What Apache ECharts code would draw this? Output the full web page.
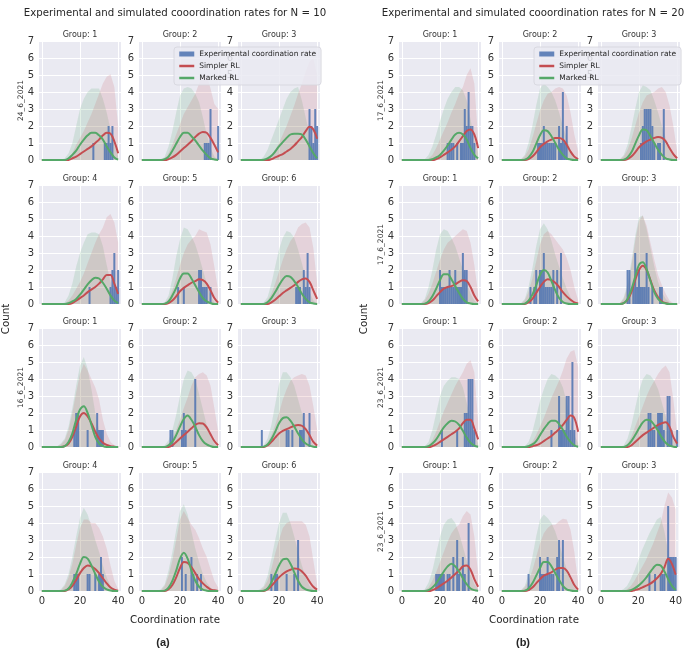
<!DOCTYPE html>
<html><head><meta charset="utf-8">
<script src="https://cdn.jsdelivr.net/npm/echarts@6/dist/echarts.min.js"></script>
<style>html,body{margin:0;padding:0;background:#fff}#c{width:685px;height:651px}</style>
</head><body><div id="c"></div>
<script>
// x positions where the simulated curves were read
const X = [0,6,8,10,12,14,16,18,20,22,24,26,28,30,32,34,36,38,40];
const xTicks = [0,20,40];
const yTicks = [0,1,2,3,4,5,6,7];

// ---------- (a) N = 10 ----------
// row 1 (24_6_2021)
const a11_bars = [[27,1],[33,1],[34,1],[35,2],[36,1],[37,2]];
const a11_simpler = [0,0,0,0,0,0,0.1,0.2,0.35,0.5,0.65,0.8,1.0,1.2,1.45,1.6,1.55,1.1,0.4];
const a11_marked = [0,0,0,0,0,0.1,0.3,0.55,0.9,1.2,1.45,1.6,1.6,1.45,1.2,0.8,0.45,0.15,0.02];
const a11_simplerBand = [0,0,0,0,0,0.1,0.4,0.9,1.3,1.7,2.2,2.7,3.3,3.9,4.5,4.9,5.05,4.3,2.0];
const a11_markedBand = [0,0,0,0,0.1,0.4,1.0,2.0,3.0,3.6,4.0,4.2,4.2,4.2,3.6,2.8,1.8,0.9,0.2];

const a12_bars = [[33,1],[34,1],[35,1],[36,3],[40,2]];
const a12_simpler = [0,0,0,0,0,0.05,0.15,0.3,0.5,0.7,0.9,1.1,1.35,1.55,1.65,1.6,1.3,0.9,0.45];
const a12_marked = [0,0,0,0,0.05,0.2,0.55,0.95,1.35,1.6,1.6,1.4,1.15,0.85,0.55,0.3,0.1,0.03,0];
const a12_simplerBand = [0,0,0,0,0.1,0.4,0.9,1.5,2.1,2.7,3.1,3.5,3.9,4.5,5.0,5.0,4.2,3.3,3.0];
const a12_markedBand = [0,0,0,0,0.2,0.8,1.7,2.8,3.8,4.2,4.3,4.2,3.9,3.4,2.5,1.5,0.7,0.2,0];

const a13_bars = [[36,3],[37,2],[38,1],[39,3],[40,2]];
const a13_simpler = [0,0,0,0,0,0,0.05,0.15,0.25,0.35,0.5,0.65,0.85,1.1,1.35,1.7,1.95,1.8,1.25];
const a13_marked = [0,0,0,0,0.02,0.1,0.25,0.5,0.8,1.05,1.3,1.5,1.55,1.55,1.5,1.2,0.8,0.4,0.1];
const a13_simplerBand = [0,0,0,0,0,0.1,0.3,0.6,1.0,1.5,2.0,2.6,3.2,3.9,4.5,5.2,5.8,6.0,5.0];
const a13_markedBand = [0,0,0,0,0.2,0.6,1.2,1.8,2.4,3.0,3.6,4.0,4.2,4.3,3.5,2.5,1.5,0.6,0.1];

// row 2
const a24_bars = [[25,1],[36,1],[37,2],[38,3],[39,1],[40,2]];
const a24_simpler = [0,0,0,0,0,0,0.05,0.2,0.35,0.5,0.7,0.85,1.0,1.2,1.45,1.7,1.7,1.2,0.6];
const a24_marked = [0,0,0,0,0,0.05,0.15,0.3,0.55,0.85,1.15,1.4,1.55,1.5,1.25,0.9,0.5,0.2,0.05];
const a24_simplerBand = [0,0,0,0,0,0.2,0.5,0.9,1.3,1.8,2.4,3.0,3.6,4.1,4.5,5.1,5.3,4.8,3.6];
const a24_markedBand = [0,0,0,0,0.1,0.5,1.2,2.2,3.0,3.6,4.1,4.2,4.2,4.1,3.4,2.3,1.3,0.5,0.1];

const a25_bars = [[19,1],[22,1],[30,2],[31,2],[32,1],[33,1],[34,1],[36,1]];
const a25_simpler = [0,0,0,0,0,0.05,0.2,0.45,0.75,0.95,1.1,1.25,1.35,1.45,1.4,1.2,0.8,0.35,0.08];
const a25_marked = [0,0,0,0,0.02,0.15,0.5,0.95,1.5,1.8,1.8,1.5,1.1,0.7,0.35,0.15,0.05,0,0];
const a25_simplerBand = [0,0,0,0,0.05,0.3,0.8,1.5,2.3,3.0,3.5,3.8,4.0,4.4,4.3,4.2,3.5,2.2,0.8];
const a25_markedBand = [0,0,0,0,0.1,0.5,1.5,2.8,3.8,4.5,4.4,4.0,3.5,2.8,2.0,1.2,0.5,0.1,0];

const a26_bars = [[29,1],[30,1],[31,1],[33,2],[34,1],[35,3],[36,1]];
const a26_simpler = [0,0,0,0,0,0,0.1,0.25,0.45,0.65,0.8,0.95,1.1,1.3,1.45,1.5,1.3,0.8,0.3];
const a26_marked = [0,0,0,0,0,0.1,0.35,0.7,1.1,1.45,1.65,1.6,1.35,1.0,0.6,0.3,0.1,0.03,0];
const a26_simplerBand = [0,0,0,0,0.05,0.2,0.6,1.2,1.9,2.6,3.2,3.7,4.0,4.5,4.7,4.8,4.5,3.3,1.2];
const a26_markedBand = [0,0,0,0,0.1,0.4,1.2,2.2,3.2,3.9,4.3,4.2,3.9,3.2,2.4,1.5,0.7,0.2,0];

// row 3 (16_6_2021)
const a31_bars = [[17,1],[18,2],[19,2],[24,1],[29,2],[30,1],[31,1],[32,1]];
const a31_simpler = [0,0,0,0,0.05,0.2,0.6,1.2,1.8,2.0,1.8,1.4,0.9,0.5,0.25,0.12,0.05,0.02,0];
const a31_marked = [0,0,0,0,0.05,0.3,0.8,1.6,2.2,2.4,2.0,1.3,0.6,0.2,0.05,0,0,0,0];
const a31_simplerBand = [0,0,0.05,0.15,0.4,1.0,2.0,3.2,4.3,4.9,4.5,4.0,3.5,2.8,1.6,0.8,0.3,0.1,0];
const a31_markedBand = [0,0,0.05,0.2,0.5,1.2,2.3,3.6,4.8,5.3,4.6,3.4,2.0,1.0,0.4,0.1,0,0,0];

const a32_bars = [[15,1],[16,1],[21,1],[22,2],[23,1],[28,4]];
const a32_simpler = [0,0,0,0,0,0,0.1,0.3,0.5,0.7,0.9,1.1,1.3,1.4,1.38,1.15,0.75,0.35,0.1];
const a32_marked = [0,0,0,0,0,0.1,0.3,0.7,1.2,1.65,1.85,1.6,1.2,0.7,0.35,0.15,0.05,0,0];
const a32_simplerBand = [0,0,0,0,0.05,0.2,0.5,1.0,1.6,2.3,2.9,3.6,4.1,4.3,4.4,4.2,3.6,2.3,0.9];
const a32_markedBand = [0,0,0,0,0.1,0.4,1.0,1.9,3.0,4.0,4.5,4.4,4.0,3.1,2.2,1.3,0.6,0.2,0];

const a33_bars = [[11,1],[24,1],[25,1],[27,1],[31,1],[32,1],[33,2],[36,2]];
const a33_simpler = [0,0,0,0,0,0.1,0.3,0.55,0.8,0.95,1.05,1.15,1.25,1.3,1.25,1.05,0.7,0.3,0.08];
const a33_marked = [0,0,0,0,0.02,0.15,0.45,0.9,1.4,1.7,1.75,1.55,1.2,0.8,0.45,0.2,0.08,0.02,0];
const a33_simplerBand = [0,0,0,0,0.05,0.25,0.7,1.3,2.0,2.8,3.4,3.9,4.1,4.2,4.3,4.2,3.6,2.4,1.0];
const a33_markedBand = [0,0,0,0,0.1,0.5,1.3,2.5,3.7,4.4,4.4,4.1,3.6,2.8,2.0,1.2,0.5,0.1,0];

// row 4
const a44_bars = [[17,1],[18,1],[19,1],[24,1],[25,1],[28,1],[30,1],[31,2],[32,1]];
const a44_simpler = [0,0,0,0,0,0.1,0.3,0.65,1.05,1.35,1.5,1.45,1.3,1.05,0.75,0.45,0.2,0.08,0.02];
const a44_marked = [0,0,0,0,0.02,0.15,0.5,1.0,1.6,2.0,1.9,1.5,1.0,0.55,0.25,0.1,0.03,0,0];
const a44_simplerBand = [0,0,0,0.05,0.3,0.8,1.6,2.7,3.7,4.2,4.2,4.0,4.0,3.7,3.2,2.5,1.5,0.6,0.1];
const a44_markedBand = [0,0,0,0.1,0.4,1.0,2.0,3.2,4.3,4.9,4.5,3.8,3.0,2.3,1.5,0.8,0.3,0.1,0];

const a45_bars = [[21,2],[23,1],[26,2],[27,1],[29,1],[31,1]];
const a45_simpler = [0,0,0,0,0,0.1,0.35,0.8,1.35,1.7,1.65,1.4,1.05,0.7,0.45,0.25,0.1,0.04,0];
const a45_marked = [0,0,0,0,0.02,0.2,0.6,1.2,1.9,2.25,1.9,1.2,0.6,0.25,0.08,0.02,0,0,0];
const a45_simplerBand = [0,0,0,0.05,0.3,0.9,1.8,3.0,4.2,4.7,4.3,3.9,3.6,3.1,2.5,2.0,1.3,0.6,0.2];
const a45_markedBand = [0,0,0,0.1,0.4,1.2,2.3,3.6,4.7,5.1,4.5,3.5,2.5,1.7,1.0,0.5,0.2,0.05,0];

const a46_bars = [[16,1],[18,1],[19,1],[24,1],[28,1],[30,3]];
const a46_simpler = [0,0,0,0,0,0.1,0.3,0.55,0.8,1.0,1.15,1.25,1.32,1.3,1.15,0.9,0.55,0.25,0.08];
const a46_marked = [0,0,0,0,0.02,0.15,0.5,1.0,1.5,1.85,1.9,1.6,1.1,0.6,0.25,0.1,0.03,0,0];
const a46_simplerBand = [0,0,0,0.05,0.2,0.6,1.3,2.2,3.0,3.7,4.0,4.1,4.1,4.1,4.1,3.9,3.2,1.8,0.4];
const a46_markedBand = [0,0,0,0.1,0.3,0.9,1.9,3.0,4.0,4.6,4.6,4.0,3.2,2.3,1.5,0.8,0.3,0.1,0];

// ---------- (b) N = 20 ----------
// row 1 (17_6_2021)
const b11_bars = [[24,1],[25,1],[26,1],[27,1],[29,1],[31,1],[32,1],[33,3],[34,2],[35,4],[36,2],[37,2],[38,1]];
const b11_simpler = [0,0,0,0,0,0,0,0.05,0.15,0.3,0.45,0.6,0.8,1.1,1.4,1.7,1.8,1.5,0.7];
const b11_marked = [0,0,0,0,0,0,0.05,0.15,0.3,0.55,0.85,1.2,1.5,1.6,1.5,1.2,0.7,0.3,0.1];
const b11_simplerBand = [0,0,0,0,0,0.1,0.3,0.7,1.2,1.7,2.2,2.8,3.3,3.9,4.3,5.0,5.4,4.5,1.2];
const b11_markedBand = [0,0,0,0,0.05,0.3,0.8,1.5,2.3,3.0,3.6,4.0,4.3,4.3,4.1,3.5,2.4,1.2,0.4];

const b12_bars = [[19,1],[20,1],[21,1],[22,2],[23,1],[24,1],[25,1],[26,1],[27,1],[28,1],[30,2],[31,1],[32,4],[33,1],[34,2]];
const b12_simpler = [0,0,0,0,0,0.05,0.2,0.45,0.75,0.95,1.1,1.2,1.3,1.3,1.2,0.9,0.5,0.2,0.05];
const b12_marked = [0,0,0,0,0.02,0.15,0.45,0.95,1.45,1.75,1.7,1.4,1.0,0.6,0.3,0.1,0.03,0,0];
const b12_simplerBand = [0,0,0,0.05,0.2,0.6,1.3,2.1,2.9,3.5,3.9,4.0,4.2,4.3,4.2,3.8,2.8,1.5,0.5];
const b12_markedBand = [0,0,0,0.05,0.3,1.0,2.0,3.2,4.2,4.5,4.3,4.0,3.5,2.8,2.0,1.3,0.6,0.2,0];

const b13_bars = [[21,1],[22,2],[23,3],[24,3],[25,3],[26,3],[27,2],[28,1],[30,1],[31,1],[33,3]];
const b13_simpler = [0,0,0,0,0,0.05,0.2,0.45,0.75,0.95,1.1,1.2,1.3,1.35,1.3,1.1,0.7,0.35,0.1];
const b13_marked = [0,0,0,0,0.02,0.15,0.45,0.95,1.45,1.8,1.75,1.4,1.0,0.6,0.3,0.1,0.03,0,0];
const b13_simplerBand = [0,0,0,0.05,0.2,0.6,1.2,2.0,2.8,3.4,3.8,3.9,4.0,4.2,4.3,4.0,3.2,2.0,0.5];
const b13_markedBand = [0,0,0,0.05,0.3,0.9,1.9,3.0,4.0,4.4,4.3,4.1,3.5,2.8,2.0,1.3,0.6,0.2,0];

// row 2 (17_6_2021)
const b21_bars = [[20,2],[21,1],[22,1],[23,1],[24,1],[25,2],[26,1],[27,1],[28,2],[29,1],[30,1],[31,1],[32,3],[33,2],[34,2]];
const b21_simpler = [0,0,0,0,0,0.05,0.2,0.45,0.7,0.9,1.0,1.05,1.15,1.3,1.4,1.35,1.0,0.5,0.15];
const b21_marked = [0,0,0,0,0.02,0.15,0.45,0.9,1.4,1.75,1.75,1.45,1.05,0.65,0.3,0.1,0.03,0,0];
const b21_simplerBand = [0,0,0,0.05,0.2,0.6,1.2,1.9,2.6,3.2,3.6,3.8,4.0,4.2,4.4,4.3,3.6,2.3,0.6];
const b21_markedBand = [0,0,0,0.05,0.3,1.0,2.0,3.2,4.1,4.4,4.3,3.9,3.4,2.7,2.0,1.3,0.6,0.2,0];

const b22_bars = [[15,1],[17,1],[18,2],[20,2],[21,2],[22,3],[23,1],[24,1],[25,1],[26,1],[27,2],[29,2],[31,3]];
const b22_simpler = [0,0,0,0,0,0.1,0.3,0.65,1.0,1.3,1.45,1.4,1.25,1.0,0.7,0.45,0.25,0.1,0.03];
const b22_marked = [0,0,0,0,0.02,0.2,0.55,1.1,1.7,2.0,1.85,1.35,0.8,0.35,0.12,0.03,0,0,0];
const b22_simplerBand = [0,0,0,0.05,0.2,0.7,1.5,2.5,3.5,4.1,4.3,4.1,3.8,3.5,3.2,2.7,2.0,1.0,0.2];
const b22_markedBand = [0,0,0,0.05,0.3,1.0,2.1,3.4,4.4,4.75,4.4,3.7,2.9,2.2,1.5,0.9,0.4,0.1,0];

const b23_bars = [[14,2],[15,2],[17,1],[18,3],[19,1],[20,2],[21,1],[22,1],[23,1],[24,3],[25,1],[27,1],[31,1],[32,1]];
const b23_simpler = [0,0,0,0,0.05,0.25,0.7,1.4,2.0,2.25,2.0,1.4,0.8,0.4,0.15,0.05,0,0,0];
const b23_marked = [0,0,0,0,0.05,0.3,0.85,1.6,2.3,2.45,2.05,1.35,0.7,0.3,0.1,0.03,0,0,0];
const b23_simplerBand = [0,0,0,0.05,0.3,1.0,2.2,3.7,4.9,5.2,4.6,3.6,2.6,1.7,1.1,0.6,0.2,0.05,0];
const b23_markedBand = [0,0,0,0.05,0.4,1.2,2.5,4.0,5.1,5.2,4.4,3.3,2.2,1.3,0.7,0.3,0.1,0,0];

// row 3 (23_6_2021)
const b31_bars = [[21,1],[29,1],[33,2],[34,2],[35,4],[36,4],[37,4],[38,1]];
const b31_simpler = [0,0,0,0,0,0,0.05,0.15,0.3,0.45,0.6,0.75,0.9,1.1,1.4,1.6,1.6,1.1,0.45];
const b31_marked = [0,0,0,0,0,0.05,0.2,0.45,0.8,1.15,1.4,1.55,1.5,1.3,0.95,0.55,0.25,0.08,0.02];
const b31_simplerBand = [0,0,0,0,0,0.1,0.4,0.9,1.5,2.1,2.6,3.1,3.6,4.0,4.4,4.9,5.1,4.4,1.5];
const b31_markedBand = [0,0,0,0,0.05,0.3,1.0,2.0,3.0,3.6,3.9,4.1,4.1,4.0,3.5,2.6,1.6,0.7,0.2];

const b32_bars = [[26,1],[30,3],[31,1],[32,1],[33,1],[34,3],[35,3],[36,1],[37,5],[38,1]];
const b32_simpler = [0,0,0,0,0,0,0.05,0.1,0.2,0.35,0.5,0.65,0.85,1.05,1.3,1.6,1.85,1.7,0.9];
const b32_marked = [0,0,0,0,0,0.05,0.15,0.35,0.7,1.05,1.35,1.55,1.55,1.35,1.0,0.6,0.3,0.1,0.02];
const b32_simplerBand = [0,0,0,0,0,0.1,0.3,0.7,1.2,1.7,2.3,2.9,3.4,3.9,4.5,5.2,5.6,5.7,4.7];
const b32_markedBand = [0,0,0,0,0.05,0.3,0.9,1.8,2.7,3.4,4.0,4.3,4.2,4.0,3.5,2.6,1.6,0.7,0.2];

const b33_bars = [[25,2],[26,2],[27,1],[28,1],[30,2],[31,2],[32,2],[33,1],[35,3],[36,3],[37,1],[40,1]];
const b33_simpler = [0,0,0,0,0,0,0.1,0.3,0.5,0.7,0.85,1.0,1.15,1.3,1.4,1.45,1.2,0.6,0.2];
const b33_marked = [0,0,0,0,0,0.1,0.35,0.7,1.1,1.45,1.6,1.55,1.3,0.95,0.55,0.25,0.08,0.02,0];
const b33_simplerBand = [0,0,0,0,0.05,0.2,0.6,1.2,1.8,2.4,3.0,3.5,3.9,4.3,4.6,4.8,4.4,2.8,0.8];
const b33_markedBand = [0,0,0,0,0.1,0.5,1.3,2.3,3.3,4.0,4.3,4.2,3.9,3.4,2.6,1.8,1.0,0.4,0.1];

// row 4 (23_6_2021)
const b41_bars = [[18,1],[19,1],[20,1],[21,1],[22,1],[24,1],[25,1],[27,2],[29,3],[30,1],[32,2],[33,1],[35,4]];
const b41_simpler = [0,0,0,0,0,0,0.05,0.15,0.3,0.45,0.6,0.8,1.0,1.2,1.45,1.5,1.25,0.7,0.25];
const b41_marked = [0,0,0,0,0,0.05,0.2,0.45,0.8,1.15,1.45,1.6,1.45,1.15,0.75,0.4,0.15,0.05,0.01];
const b41_simplerBand = [0,0,0,0,0.05,0.2,0.6,1.1,1.7,2.3,2.9,3.4,3.7,3.9,4.4,4.7,4.5,3.2,1.0];
const b41_markedBand = [0,0,0,0,0.1,0.5,1.2,2.2,3.2,3.9,4.2,4.3,4.0,3.4,2.6,1.8,1.0,0.4,0.1];

const b42_bars = [[14,1],[20,2],[21,1],[22,1],[23,1],[24,2],[25,1],[26,1],[27,1],[29,2],[30,3],[32,3]];
const b42_simpler = [0,0,0,0,0,0.05,0.2,0.45,0.7,0.9,1.0,1.1,1.25,1.35,1.35,1.2,0.8,0.35,0.08];
const b42_marked = [0,0,0,0,0.02,0.15,0.45,0.9,1.35,1.7,1.7,1.45,1.05,0.65,0.3,0.1,0.03,0,0];
const b42_simplerBand = [0,0,0,0.05,0.2,0.6,1.2,2.0,2.8,3.4,3.7,3.9,3.9,4.1,4.25,4.2,3.6,2.3,0.5];
const b42_markedBand = [0,0,0,0.05,0.3,1.0,2.0,3.2,4.2,4.5,4.3,4.0,3.5,2.8,2.0,1.3,0.6,0.2,0];

const b43_bars = [[26,1],[29,1],[32,1],[33,1],[34,1],[36,5],[37,2],[38,2],[39,2],[40,2]];
const b43_simpler = [0,0,0,0,0,0,0,0.05,0.1,0.2,0.3,0.4,0.55,0.75,1.0,1.4,1.9,1.6,0.95];
const b43_marked = [0,0,0,0,0,0,0.05,0.15,0.3,0.5,0.75,1.05,1.35,1.55,1.5,1.15,0.7,0.3,0.05];
const b43_simplerBand = [0,0,0,0,0,0.1,0.3,0.6,1.0,1.4,1.8,2.3,2.8,3.4,4.0,5.0,5.8,5.5,4.8];
const b43_markedBand = [0,0,0,0,0.1,0.3,0.7,1.2,1.8,2.4,2.9,3.4,3.8,4.2,4.35,3.5,2.3,1.2,0.4];

// text
const titleA = 'Experimental and simulated cooordination rates for N = 10';
const titleB = 'Experimental and simulated cooordination rates for N = 20';
const rowLabelsA = ['24_6_2021','','16_6_2021',''];
const rowLabelsB = ['17_6_2021','17_6_2021','23_6_2021','23_6_2021'];
const groupsA = [['Group: 1','Group: 2','Group: 3'],['Group: 4','Group: 5','Group: 6'],['Group: 1','Group: 2','Group: 3'],['Group: 4','Group: 5','Group: 6']];
const groupsB = [['Group: 1','Group: 2','Group: 3'],['Group: 1','Group: 2','Group: 3'],['Group: 1','Group: 2','Group: 3'],['Group: 1','Group: 2','Group: 3']];
const seriesNames = ['Experimental coordination rate','Simpler RL','Marked RL'];

const panelData = {
  a: [[ [a11_bars,a11_simpler,a11_marked,a11_simplerBand,a11_markedBand], [a12_bars,a12_simpler,a12_marked,a12_simplerBand,a12_markedBand], [a13_bars,a13_simpler,a13_marked,a13_simplerBand,a13_markedBand] ],
      [ [a24_bars,a24_simpler,a24_marked,a24_simplerBand,a24_markedBand], [a25_bars,a25_simpler,a25_marked,a25_simplerBand,a25_markedBand], [a26_bars,a26_simpler,a26_marked,a26_simplerBand,a26_markedBand] ],
      [ [a31_bars,a31_simpler,a31_marked,a31_simplerBand,a31_markedBand], [a32_bars,a32_simpler,a32_marked,a32_simplerBand,a32_markedBand], [a33_bars,a33_simpler,a33_marked,a33_simplerBand,a33_markedBand] ],
      [ [a44_bars,a44_simpler,a44_marked,a44_simplerBand,a44_markedBand], [a45_bars,a45_simpler,a45_marked,a45_simplerBand,a45_markedBand], [a46_bars,a46_simpler,a46_marked,a46_simplerBand,a46_markedBand] ]],
  b: [[ [b11_bars,b11_simpler,b11_marked,b11_simplerBand,b11_markedBand], [b12_bars,b12_simpler,b12_marked,b12_simplerBand,b12_markedBand], [b13_bars,b13_simpler,b13_marked,b13_simplerBand,b13_markedBand] ],
      [ [b21_bars,b21_simpler,b21_marked,b21_simplerBand,b21_markedBand], [b22_bars,b22_simpler,b22_marked,b22_simplerBand,b22_markedBand], [b23_bars,b23_simpler,b23_marked,b23_simplerBand,b23_markedBand] ],
      [ [b31_bars,b31_simpler,b31_marked,b31_simplerBand,b31_markedBand], [b32_bars,b32_simpler,b32_marked,b32_simplerBand,b32_markedBand], [b33_bars,b33_simpler,b33_marked,b33_simplerBand,b33_markedBand] ],
      [ [b41_bars,b41_simpler,b41_marked,b41_simplerBand,b41_markedBand], [b42_bars,b42_simpler,b42_marked,b42_simplerBand,b42_markedBand], [b43_bars,b43_simpler,b43_marked,b43_simplerBand,b43_markedBand] ]]
};

// layout
const leftsA = [39,139,238], leftsB = [399,499,598];
const tops = [41,185,328,472];
const PW = 82, PH = 119;
const FONT = '"DejaVu Sans", "Liberation Sans", sans-serif';
const BG = '#EAEAF2', BLUE = '#4C72B0', RED = '#C44E52', GREEN = '#55A868';

const grids = [], xAxes = [], yAxes = [], series = [], graphics = [];
['a','b'].forEach(fig => {
  const lefts = fig === 'a' ? leftsA : leftsB;
  const groups = fig === 'a' ? groupsA : groupsB;
  const rowLabels = fig === 'a' ? rowLabelsA : rowLabelsB;
  for (let r = 0; r < 4; r++) {
    if (rowLabels[r]) {
      graphics.push({type:'text', x: fig === 'a' ? 21 : 381, y: tops[r] + PH/2, rotation: Math.PI/2,
        style:{text: rowLabels[r], font: '7.5px ' + FONT, fill:'#333', align:'center', verticalAlign:'middle'}});
    }
    for (let c = 0; c < 3; c++) {
      const idx = grids.length;
      const [bars, simpler, marked, sBand, mBand] = panelData[fig][r][c];
      grids.push({left: lefts[c], top: tops[r], width: PW, height: PH, show: true, backgroundColor: BG, borderWidth: 0, containLabel: false});
      xAxes.push({type:'value', gridIndex: idx, min: -1.5, max: 41.5,
        axisLine:{show:false}, axisTick:{show:false, customValues: xTicks},
        axisLabel:{show: r === 3, customValues: xTicks, fontSize: 10, fontFamily: FONT, color:'#333', margin: 5},
        splitLine:{show:true, lineStyle:{color:'#fff', width:1}}});
      yAxes.push({type:'value', gridIndex: idx, min: 0, max: 7, interval: 1,
        axisLine:{show:false}, axisTick:{show:false},
        axisLabel:{show:true, fontSize: 10, fontFamily: FONT, color:'#333', margin: 5},
        splitLine:{show:true, lineStyle:{color:'#fff', width:1}}});
      graphics.push({type:'text', x: lefts[c] + PW/2, y: tops[r] - 6,
        style:{text: groups[r][c], font: '8px ' + FONT, fill:'#333', align:'center', verticalAlign:'middle'}});
      series.push({type:'line', name:'Marked RL band', xAxisIndex: idx, yAxisIndex: idx, silent: true, symbol:'none',
        data: X.map((x,j) => [x, mBand[j]]), lineStyle:{width:0}, areaStyle:{color:'rgba(85,168,104,0.24)'}, z: 1});
      series.push({type:'line', name:'Simpler RL band', xAxisIndex: idx, yAxisIndex: idx, silent: true, symbol:'none',
        data: X.map((x,j) => [x, sBand[j]]), lineStyle:{width:0}, areaStyle:{color:'rgba(196,78,82,0.22)'}, z: 1});
      series.push({type:'bar', name: seriesNames[0], xAxisIndex: idx, yAxisIndex: idx, silent: true,
        data: bars, barWidth: 2, itemStyle:{color: BLUE, opacity: 0.85}, z: 2});
      series.push({type:'line', name: seriesNames[1], xAxisIndex: idx, yAxisIndex: idx, silent: true, symbol:'none', smooth: 0.35,
        data: X.map((x,j) => [x, simpler[j]]), lineStyle:{color: RED, width: 2}, itemStyle:{color: RED}, z: 3});
      series.push({type:'line', name: seriesNames[2], xAxisIndex: idx, yAxisIndex: idx, silent: true, symbol:'none', smooth: 0.35,
        data: X.map((x,j) => [x, marked[j]]), lineStyle:{color: GREEN, width: 2}, itemStyle:{color: GREEN}, z: 3});
    }
  }
});

// figure texts
const T = (x, y, text, font, rot) => ({type:'text', x, y, rotation: rot || 0,
  style:{text, font, fill:'#262626', align:'center', verticalAlign:'middle'}});
graphics.push(T(175, 13, titleA, '10.2px ' + FONT));
graphics.push(T(533, 13, titleB, '10.2px ' + FONT));
graphics.push(T(175, 620, 'Coordination rate', '10.3px ' + FONT));
graphics.push(T(534, 620, 'Coordination rate', '10.3px ' + FONT));
graphics.push(T(6, 319, 'Count', '10.3px ' + FONT, Math.PI/2));
graphics.push(T(364, 319, 'Count', '10.3px ' + FONT, Math.PI/2));
graphics.push(T(163, 643, '(a)', 'bold 11px "Liberation Sans", sans-serif'));
graphics.push(T(523, 643, '(b)', 'bold 11px "Liberation Sans", sans-serif'));

const legendBase = {
  orient:'vertical', itemWidth: 15, itemHeight: 5, itemGap: 4, selectedMode: false,
  padding:[3,5,3,4], backgroundColor:'rgba(234,234,242,0.85)', borderColor:'#d4d4dc', borderWidth: 0.8, borderRadius: 3,
  textStyle:{fontSize: 7.5, fontFamily: FONT, color:'#262626'},
  data:[{name: seriesNames[0], icon:'rect'},
        {name: seriesNames[1], itemStyle:{opacity: 0}, lineStyle:{width: 2.5}},
        {name: seriesNames[2], itemStyle:{opacity: 0}, lineStyle:{width: 2.5}}], z: 10
};

const chart = echarts.init(document.getElementById('c'), null, {renderer:'canvas'});
chart.setOption({
  animation: false,
  backgroundColor: '#fff',
  grid: grids, xAxis: xAxes, yAxis: yAxes, series: series,
  legend: [Object.assign({}, legendBase, {left: 174, top: 47}), Object.assign({}, legendBase, {left: 534, top: 47})],
  graphic: graphics
});
</script></body></html>
